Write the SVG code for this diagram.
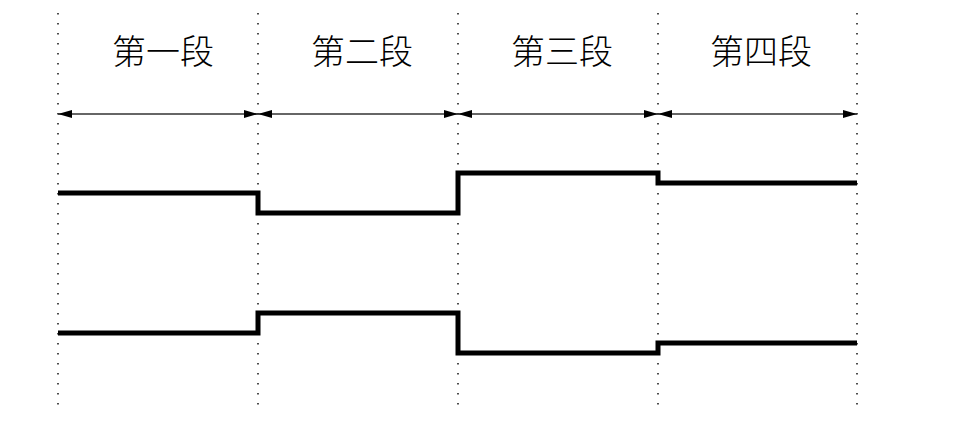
<svg xmlns="http://www.w3.org/2000/svg" width="972" height="434" viewBox="0 0 972 434">
<style>
.grid{stroke:#222;stroke-width:1.6;stroke-dasharray:1.6 8.4;fill:none}
.dim{stroke:#333;stroke-width:1.5;fill:none}
.wave{stroke:#000;stroke-width:5;fill:none;stroke-linejoin:miter}
.lbl{font-family:"Noto Sans CJK SC","Noto Sans CJK JP",sans-serif;font-size:34px;font-weight:300;fill:#000;text-anchor:middle}
</style>
<defs>
<marker id="ah" viewBox="0 0 10 10" refX="10" refY="5" markerWidth="14" markerHeight="8" markerUnits="userSpaceOnUse" orient="auto-start-reverse" preserveAspectRatio="none">
<path d="M0,0 L10,5 L0,10 Z" fill="#000"/>
</marker>
</defs>
<rect width="972" height="434" fill="#fff"/>
<g id="gridlines">
<line class="grid" x1="58" y1="13" x2="58" y2="413"/>
<line class="grid" x1="258" y1="13" x2="258" y2="413"/>
<line class="grid" x1="458" y1="13" x2="458" y2="413"/>
<line class="grid" x1="658" y1="13" x2="658" y2="413"/>
<line class="grid" x1="857" y1="13" x2="857" y2="413"/>
</g>
<g id="labels">
<text id="seg1" class="lbl" x="163" y="64">第一段</text>
<text id="seg2" class="lbl" x="362" y="64">第二段</text>
<text id="seg3" class="lbl" x="562" y="64">第三段</text>
<text id="seg4" class="lbl" x="761" y="64">第四段</text>
</g>
<g id="connectors">
<line class="dim" x1="58" y1="114" x2="258" y2="114" marker-start="url(#ah)" marker-end="url(#ah)"/>
<line class="dim" x1="258" y1="114" x2="458" y2="114" marker-start="url(#ah)" marker-end="url(#ah)"/>
<line class="dim" x1="458" y1="114" x2="658" y2="114" marker-start="url(#ah)" marker-end="url(#ah)"/>
<line class="dim" x1="658" y1="114" x2="857" y2="114" marker-start="url(#ah)" marker-end="url(#ah)"/>
</g>
<g id="wave-top">
<polyline class="wave" points="58,193 258,193 258,213 458,213 458,173 658,173 658,183 857,183"/>
</g>
<g id="wave-bottom">
<polyline class="wave" points="58,333 258,333 258,313 458,313 458,353 658,353 658,343 857,343"/>
</g>
</svg>
